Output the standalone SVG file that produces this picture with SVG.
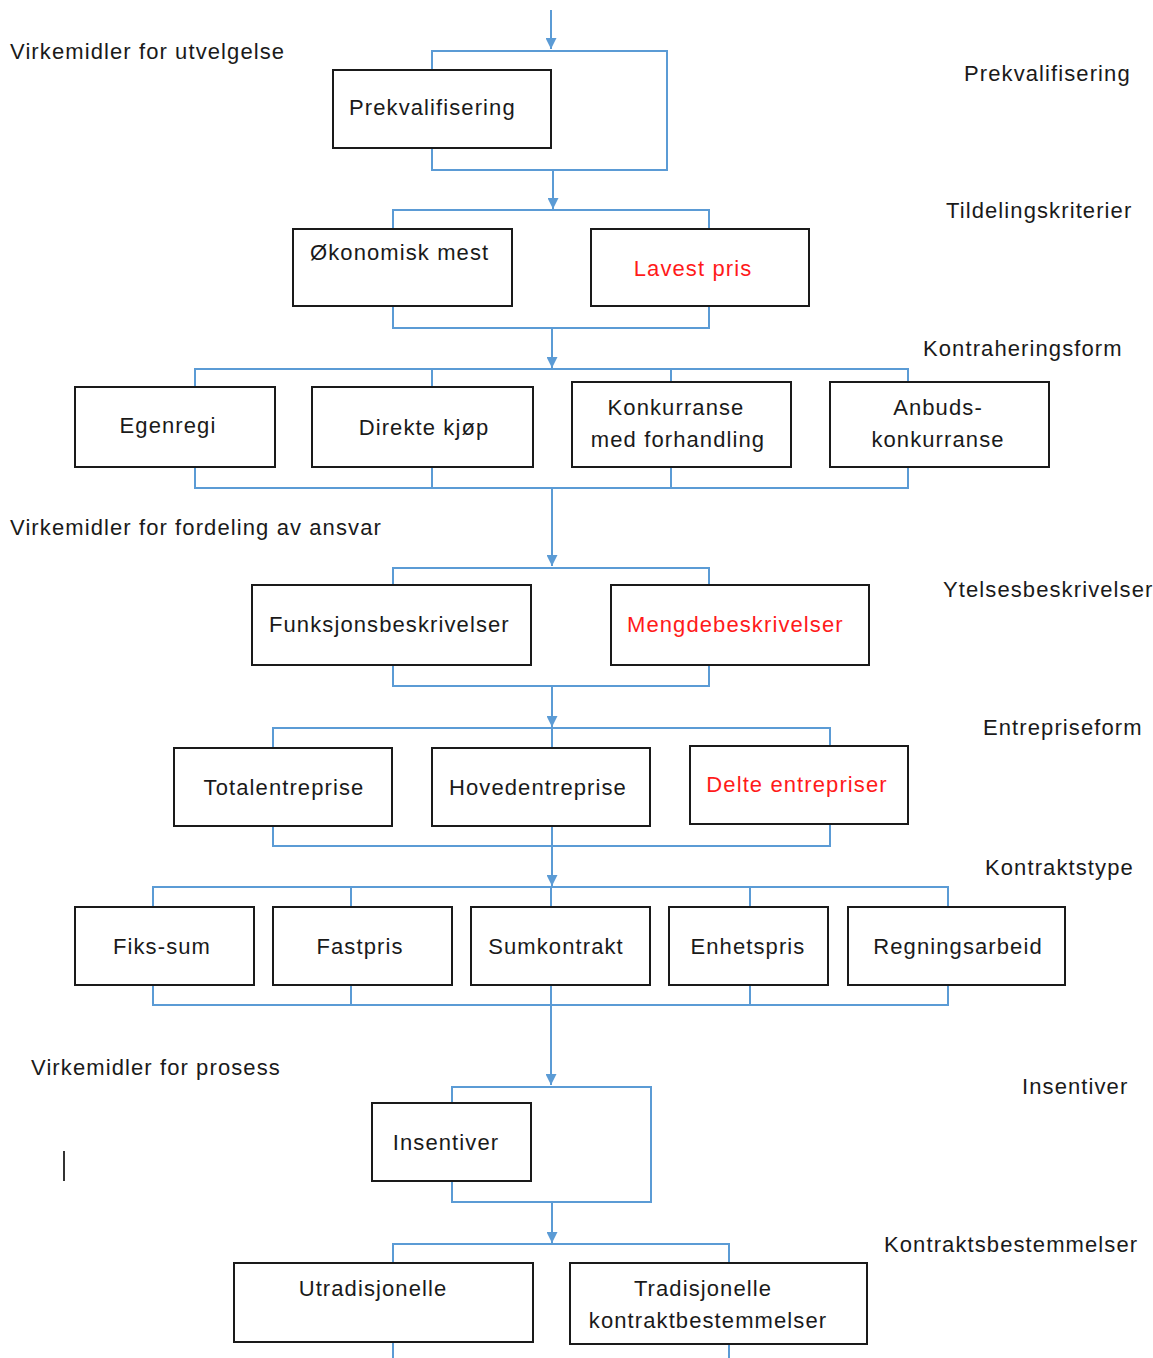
<svg xmlns="http://www.w3.org/2000/svg" width="1153" height="1358" viewBox="0 0 1153 1358">
  <style>
    .box { fill: #ffffff; stroke: #1a1a1a; stroke-width: 2; }
    .t { font-family: "Liberation Sans", Arial, sans-serif; font-size: 22px; fill: #1a1a1a; letter-spacing: 1.1px; }
    .red { fill: #ff1a1a; }
    .c { text-anchor: middle; }
    .link { fill: none; stroke: #5b9bd5; stroke-width: 2; }
    .flow { fill: none; stroke: #5b9bd5; stroke-width: 2; marker-end: url(#head); }
  </style>
  <defs>
    <marker id="head" viewBox="0 0 10 10" refX="10" refY="5" markerWidth="12" markerHeight="11" markerUnits="userSpaceOnUse" orient="auto">
      <path d="M0,0 L10,5 L0,10 z" fill="#5b9bd5"/>
    </marker>
  </defs>
  <rect width="1153" height="1358" fill="#ffffff"/>

  <!-- Section and level labels -->
  <g id="labels">
    <text class="t" x="10" y="59">Virkemidler for utvelgelse</text>
    <text class="t" x="964" y="81">Prekvalifisering</text>
    <text class="t" x="946" y="218">Tildelingskriterier</text>
    <text class="t" x="923" y="356">Kontraheringsform</text>
    <text class="t" x="10" y="535">Virkemidler for fordeling av ansvar</text>
    <text class="t" x="943" y="597">Ytelsesbeskrivelser</text>
    <text class="t" x="983" y="735">Entrepriseform</text>
    <text class="t" x="985" y="875">Kontraktstype</text>
    <text class="t" x="31" y="1075">Virkemidler for prosess</text>
    <text class="t" x="1022" y="1094">Insentiver</text>
    <text class="t" x="884" y="1252">Kontraktsbestemmelser</text>
    <line x1="64" y1="1151" x2="64" y2="1181" stroke="#333333" stroke-width="2"/>
  </g>

  <!-- Connectors -->
  <g id="connectors">
    <!-- entry -->
    <path class="flow" d="M551,10 V49"/>
    <!-- prekvalifisering loop -->
    <path class="link" d="M432,70 V51 H667 V170 H432 V148"/>
    <path class="flow" d="M553,170 V209"/>
    <!-- tildeling -->
    <path class="link" d="M393,229 V210 H709 V229"/>
    <path class="link" d="M393,306 V328 H709 V306"/>
    <path class="flow" d="M552,328 V368"/>
    <!-- kontraheringsform -->
    <path class="link" d="M195,387 V369 H908 V382"/>
    <path class="link" d="M432,369 V387 M671,369 V382"/>
    <path class="link" d="M195,467 V488 H908 V467"/>
    <path class="link" d="M432,467 V488 M671,467 V488"/>
    <path class="flow" d="M552,488 V566"/>
    <!-- ytelsesbeskrivelser -->
    <path class="link" d="M393,585 V568 H709 V585"/>
    <path class="link" d="M393,665 V686 H709 V665"/>
    <path class="flow" d="M552,686 V727"/>
    <!-- entrepriseform -->
    <path class="link" d="M273,748 V728 H830 V746"/>
    <path class="link" d="M552,728 V748"/>
    <path class="link" d="M273,826 V846 H830 V824"/>
    <path class="link" d="M552,826 V846"/>
    <path class="flow" d="M552,846 V886"/>
    <!-- kontraktstype -->
    <path class="link" d="M153,907 V887 H948 V907"/>
    <path class="link" d="M351,887 V907 M551,887 V907 M750,887 V907"/>
    <path class="link" d="M153,985 V1005 H948 V985"/>
    <path class="link" d="M351,985 V1005 M551,985 V1005 M750,985 V1005"/>
    <path class="flow" d="M551,1005 V1085"/>
    <!-- insentiver loop -->
    <path class="link" d="M452,1103 V1087 H651 V1202 H452 V1181"/>
    <path class="flow" d="M552,1202 V1243"/>
    <!-- kontraktsbestemmelser -->
    <path class="link" d="M393,1263 V1244 H729 V1263"/>
    <path class="link" d="M393,1342 V1358 M729,1344 V1358"/>
  </g>

  <!-- Nodes -->
  <g id="n-prekvalifisering">
    <rect class="box" x="333" y="70" width="218" height="78"/>
    <text class="t" x="349" y="115">Prekvalifisering</text>
  </g>
  <g id="n-okonomisk">
    <rect class="box" x="293" y="229" width="219" height="77"/>
    <text class="t" x="310" y="260">Økonomisk mest</text>
  </g>
  <g id="n-lavest">
    <rect class="box" x="591" y="229" width="218" height="77"/>
    <text class="t red c" x="693" y="276">Lavest pris</text>
  </g>
  <g id="n-egenregi">
    <rect class="box" x="75" y="387" width="200" height="80"/>
    <text class="t c" x="168" y="433">Egenregi</text>
  </g>
  <g id="n-direkte">
    <rect class="box" x="312" y="387" width="221" height="80"/>
    <text class="t c" x="424" y="435">Direkte kjøp</text>
  </g>
  <g id="n-konkurranse">
    <rect class="box" x="572" y="382" width="219" height="85"/>
    <text class="t c" x="676" y="415">Konkurranse</text>
    <text class="t c" x="678" y="447">med forhandling</text>
  </g>
  <g id="n-anbud">
    <rect class="box" x="830" y="382" width="219" height="85"/>
    <text class="t c" x="938" y="415">Anbuds-</text>
    <text class="t c" x="938" y="447">konkurranse</text>
  </g>
  <g id="n-funksjon">
    <rect class="box" x="252" y="585" width="279" height="80"/>
    <text class="t" x="269" y="632">Funksjonsbeskrivelser</text>
  </g>
  <g id="n-mengde">
    <rect class="box" x="611" y="585" width="258" height="80"/>
    <text class="t red" x="627" y="632">Mengdebeskrivelser</text>
  </g>
  <g id="n-total">
    <rect class="box" x="174" y="748" width="218" height="78"/>
    <text class="t c" x="284" y="795">Totalentreprise</text>
  </g>
  <g id="n-hoved">
    <rect class="box" x="432" y="748" width="218" height="78"/>
    <text class="t c" x="538" y="795">Hovedentreprise</text>
  </g>
  <g id="n-delte">
    <rect class="box" x="690" y="746" width="218" height="78"/>
    <text class="t red c" x="797" y="792">Delte entrepriser</text>
  </g>
  <g id="n-fiks">
    <rect class="box" x="75" y="907" width="179" height="78"/>
    <text class="t c" x="162" y="954">Fiks-sum</text>
  </g>
  <g id="n-fastpris">
    <rect class="box" x="273" y="907" width="179" height="78"/>
    <text class="t c" x="360" y="954">Fastpris</text>
  </g>
  <g id="n-sum">
    <rect class="box" x="471" y="907" width="179" height="78"/>
    <text class="t c" x="556" y="954">Sumkontrakt</text>
  </g>
  <g id="n-enhet">
    <rect class="box" x="669" y="907" width="159" height="78"/>
    <text class="t c" x="748" y="954">Enhetspris</text>
  </g>
  <g id="n-regning">
    <rect class="box" x="848" y="907" width="217" height="78"/>
    <text class="t c" x="958" y="954">Regningsarbeid</text>
  </g>
  <g id="n-insentiver">
    <rect class="box" x="372" y="1103" width="159" height="78"/>
    <text class="t c" x="446" y="1150">Insentiver</text>
  </g>
  <g id="n-utradisjonelle">
    <rect class="box" x="234" y="1263" width="299" height="79"/>
    <text class="t c" x="373" y="1296">Utradisjonelle</text>
  </g>
  <g id="n-tradisjonelle">
    <rect class="box" x="570" y="1263" width="297" height="81"/>
    <text class="t c" x="703" y="1296">Tradisjonelle</text>
    <text class="t c" x="708" y="1328">kontraktbestemmelser</text>
  </g>
</svg>
